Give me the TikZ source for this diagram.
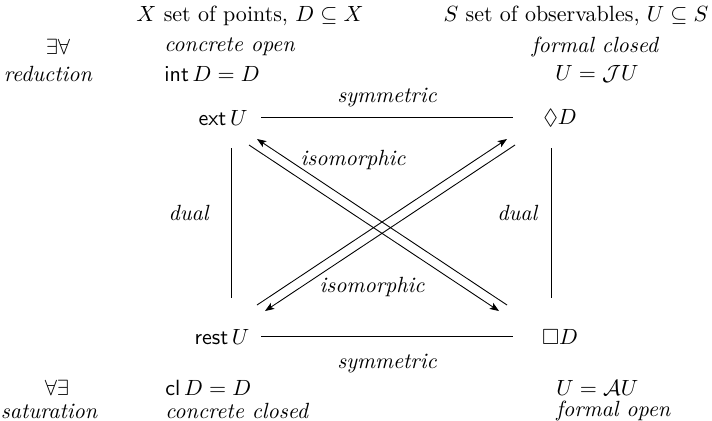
\documentclass[tikz,border=0pt]{standalone}
\usepackage{amssymb}
\usetikzlibrary{arrows.meta}
\tikzset{
  obj/.style={inner sep=0pt},
  lbl/.style={inner sep=0pt, font=\itshape},
  txt/.style={inner sep=0pt, anchor=west},
  edge/.style={line width=0.4pt},
  arrow/.style={-{Stealth[length=4.2pt,width=3.2pt,inset=1pt]}, line width=0.4pt}
}
\begin{document}
\begin{tikzpicture}[x=0.4545pt,y=-0.4545pt]
  \useasboundingbox (0,0) rectangle (712,420);
  % headers
  \node[obj] (hdX) at (250,16) {$X$ set of points, $D\subseteq X$};
  \node[obj] (hdS) at (576,16) {$S$ set of observables, $U\subseteq S$};
  % upper row
  \node[obj] (qred) at (58,47) {$\exists\forall$};
  \node[lbl] (red) at (48,74) {reduction};
  \node[lbl,txt] (copen) at (164,47) {concrete open};
  \node[txt] (intD) at (164,74) {$\mathsf{int}\,D=D$};
  \node[lbl] (fclosed) at (595,47) {formal closed};
  \node[obj] (UJU) at (597,74) {$U=\mathcal{J}U$};
  % corners
  \node[obj] (ext) at (223,118) {$\mathsf{ext}\,U$};
  \node[obj] (dia) at (560,118) {$\Diamond D$};
  \node[obj] (rest) at (222,337) {$\mathsf{rest}\,U$};
  \node[obj] (box) at (560,337) {$\Box D$};
  % lower row
  \node[obj] (qsat) at (57,388) {$\forall\exists$};
  \node[lbl] (sat) at (49,411) {saturation};
  \node[txt] (clD) at (165,388) {$\mathsf{cl}\,D=D$};
  \node[lbl,txt] (cclosed) at (165,411) {concrete closed};
  \node[txt] (UAU) at (556,388) {$U=\mathcal{A}U$};
  \node[lbl,txt] (fopen) at (556,411) {formal open};
  % sides
  \draw[edge] ([shift={(38,-1)}]ext.center) -- node[lbl,above=4.5pt] {symmetric} ([shift={(-47,-1)}]dia.center);
  \draw[edge] ([shift={(39,-1)}]rest.center) -- node[lbl,below=8pt] {symmetric} ([shift={(-47,-1)}]box.center);
  \draw[edge] ([shift={(8,30)}]ext.center) -- node[lbl,left=10pt,pos=0.43] {dual} ([shift={(9,-39)}]rest.center);
  \draw[edge] ([shift={(-9,30)}]dia.center) -- node[lbl,left=6pt,pos=0.43] {dual} ([shift={(-9,-39)}]box.center);
  % diagonals
  \draw[arrow] ([shift={(26,27)}]ext.center) -- ([shift={(-61,-26)}]box.center);
  \draw[arrow] ([shift={(-53,-32)}]box.center) -- ([shift={(34,21)}]ext.center);
  \draw[arrow] ([shift={(35,-32)}]rest.center) -- ([shift={(-53,21)}]dia.center);
  \draw[arrow] ([shift={(-45,27)}]dia.center) -- ([shift={(43,-26)}]rest.center);
  \node[lbl] (isoT) at (353,160) {isomorphic};
  \node[lbl] (isoB) at (372,287) {isomorphic};
\end{tikzpicture}
\end{document}
